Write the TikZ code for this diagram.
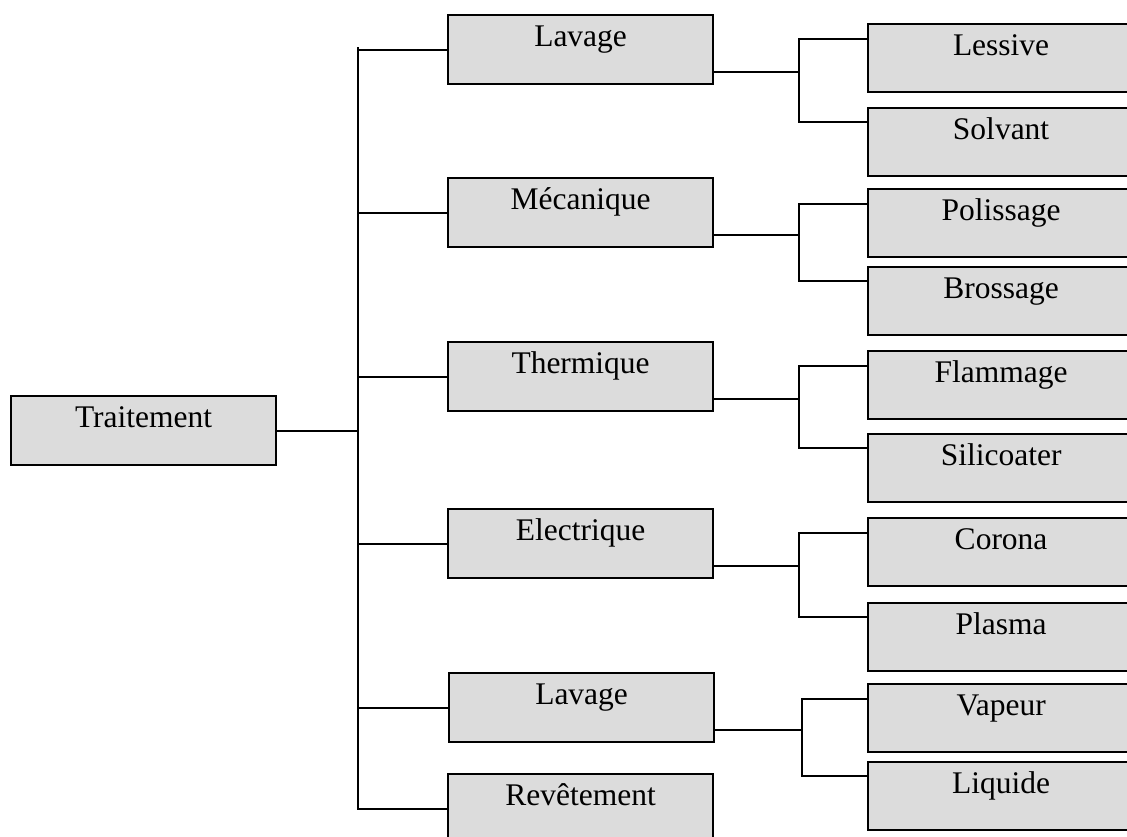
\documentclass[tikz,border=0pt]{standalone}
\usepackage{fontspec}
\setmainfont{Liberation Serif}
\usetikzlibrary{calc}
\definecolor{boxfill}{RGB}{220,220,220}
\tikzset{
  box/.style={draw=black, line width=2.2pt, fill=boxfill, rectangle, anchor=north west,
    inner xsep=0pt, inner ysep=0pt, font=\fontsize{31.5}{36}\selectfont,
    text height=31pt, minimum width=#1, align=center},
  midbox/.style={box=265pt, text depth=38pt, text width=265pt},
  leafbox/.style={box=266pt, text depth=37pt, text width=266pt},
  conn/.style={line width=2pt, line cap=rect}
}
\begin{document}
\begin{tikzpicture}[x=1pt,y=-1pt]
\useasboundingbox (0,0) rectangle (1127,837);
% root
\node[midbox] (trait) at (10,395) {Traitement};
% middle column
\node[midbox] (lav1) at (447,14) {Lavage};
\node[midbox] (meca) at (447,177) {Mécanique};
\node[midbox] (therm) at (447,341) {Thermique};
\node[midbox] (elec) at (447,508) {Electrique};
\node[midbox] (lav2) at (448,672) {Lavage};
\node[midbox] (revet) at (447,773) {Revêtement};
% right column
\node[leafbox] (less) at (867,23) {Lessive};
\node[leafbox] (solv) at (867,107) {Solvant};
\node[leafbox] (poli) at (867,188) {Polissage};
\node[leafbox] (bros) at (867,266) {Brossage};
\node[leafbox] (flam) at (867,350) {Flammage};
\node[leafbox] (sili) at (867,433) {Silicoater};
\node[leafbox] (coro) at (867,517) {Corona};
\node[leafbox] (plas) at (867,602) {Plasma};
\node[leafbox] (vape) at (867,683) {Vapeur};
\node[leafbox] (liqu) at (867,761) {Liquide};
% trunk
\coordinate (trunktop) at (358,48);
\coordinate (trunkbot) at (358,807);
\draw[conn] (trunktop) -- (trunkbot);
\draw[conn] (trait.east) -- (trait.east -| trunktop);
\foreach \n in {lav1,meca,therm,elec,lav2,revet}{
  \draw[conn] (\n.west -| trunktop) -- (\n.west);
}
% sub branches
\foreach \p/\a/\b/\x in {lav1/less/solv/799, meca/poli/bros/799, therm/flam/sili/799, elec/coro/plas/799, lav2/vape/liqu/802}{
  \coordinate (\p out) at ([yshift=13pt]\p.south east);
  \coordinate (\p fork) at (\x,0);
  \coordinate (\a in) at ([yshift=-16pt]\a.north west);
  \coordinate (\b in) at ([yshift=-15pt]\b.north west);
  \draw[conn] (\p out) -- (\p out -| \p fork);
  \draw[conn] (\a in) -- (\a in -| \p fork) -- (\b in -| \p fork) -- (\b in);
}
\end{tikzpicture}
\end{document}
